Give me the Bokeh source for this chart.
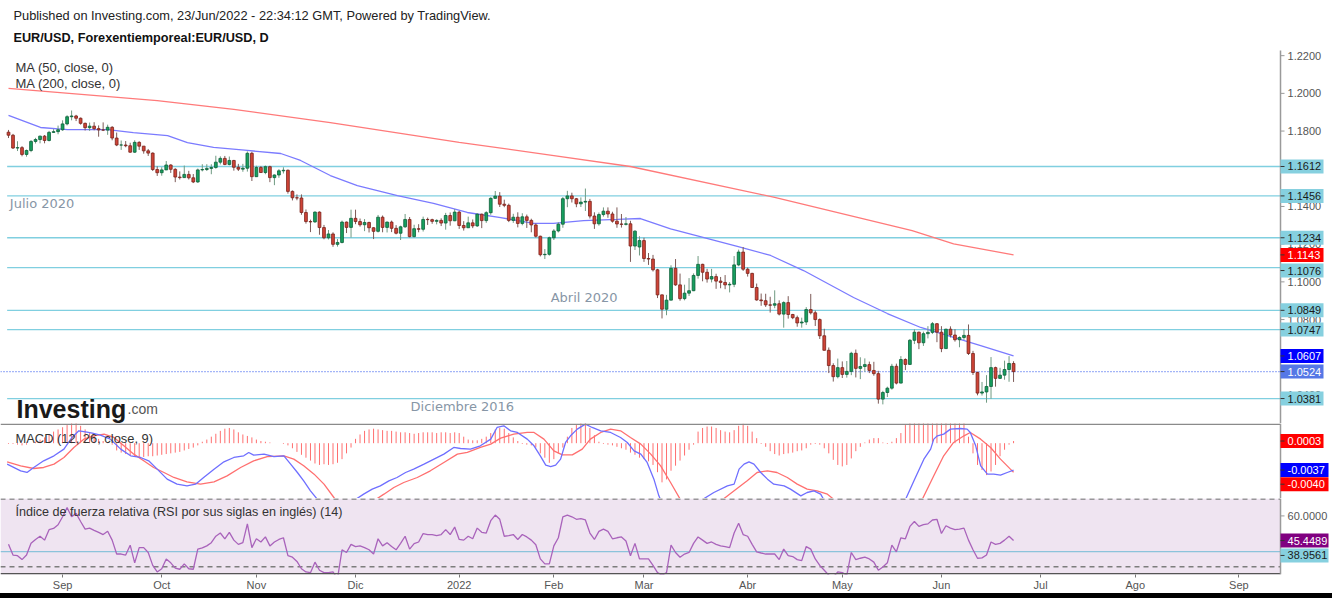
import pandas as pd
from bokeh.plotting import figure
from bokeh.layouts import column
from bokeh.models import Range1d, FixedTicker, Label, ColumnDataSource, Spacer
from bokeh.core.properties import value
from bokeh.embed import file_html
from bokeh.resources import INLINE

FONT = "Liberation Sans"
FONT_V = value(FONT)

# ---------------- data (EUR/USD daily) ----------------
first_date = "2021-08-16"

opens = [1.1794, 1.1778, 1.1710, 1.1712, 1.1676, 1.1697, 1.1745, 1.1755, 1.1773, 1.1750,
         1.1793, 1.1797, 1.1807, 1.1838, 1.1876, 1.1880, 1.1868, 1.1841, 1.1818, 1.1826,
         1.1813, 1.1806, 1.1805, 1.1820, 1.1763, 1.1726, 1.1726, 1.1722, 1.1688, 1.1740,
         1.1720, 1.1695, 1.1683, 1.1596, 1.1579, 1.1594, 1.1620, 1.1597, 1.1556, 1.1553,
         1.1570, 1.1552, 1.1530, 1.1594, 1.1596, 1.1602, 1.1607, 1.1635, 1.1655, 1.1623,
         1.1644, 1.1608, 1.1598, 1.1603, 1.1682, 1.1558, 1.1607, 1.1580, 1.1611, 1.1553,
         1.1567, 1.1589, 1.1592, 1.1480, 1.1446, 1.1445, 1.1368, 1.1320, 1.1318, 1.1370,
         1.1288, 1.1234, 1.1254, 1.1199, 1.1209, 1.1317, 1.1289, 1.1337, 1.1320, 1.1303,
         1.1315, 1.1287, 1.1268, 1.1343, 1.1289, 1.1317, 1.1284, 1.1258, 1.1292, 1.1331,
         1.1240, 1.1282, 1.1279, 1.1331, 1.1330, 1.1321, 1.1326, 1.1312, 1.1352, 1.1324,
         1.1370, 1.1299, 1.1287, 1.1313, 1.1297, 1.1359, 1.1325, 1.1367, 1.1443, 1.1455,
         1.1412, 1.1406, 1.1326, 1.1343, 1.1310, 1.1345, 1.1326, 1.1302, 1.1242, 1.1144,
         1.1146, 1.1234, 1.1270, 1.1306, 1.1441, 1.1456, 1.1441, 1.1414, 1.1423, 1.1427,
         1.1349, 1.1308, 1.1357, 1.1375, 1.1360, 1.1322, 1.1307, 1.1305, 1.1308, 1.1190,
         1.1185, 1.1219, 1.1124, 1.1121, 1.1064, 1.0931, 1.0855, 1.0903, 1.1072, 1.0984,
         1.0911, 1.0940, 1.0953, 1.1034, 1.1093, 1.1051, 1.1015, 1.1028, 1.1004, 1.0997,
         1.0984, 1.0987, 1.1090, 1.1158, 1.1067, 1.1045, 1.0970, 1.0904, 1.0900, 1.0878,
         1.0876, 1.0884, 1.0829, 1.0890, 1.0827, 1.0810, 1.0782, 1.0787, 1.0853, 1.0836,
         1.0800, 1.0714, 1.0637, 1.0556, 1.0497, 1.0545, 1.0509, 1.0525, 1.0621, 1.0541,
         1.0551, 1.0561, 1.0530, 1.0513, 1.0378, 1.0413, 1.0436, 1.0552, 1.0463, 1.0588,
         1.0562, 1.0690, 1.0733, 1.0677, 1.0725, 1.0732, 1.0778, 1.0733, 1.0646, 1.0749,
         1.0718, 1.0693, 1.0705, 1.0716, 1.0620, 1.0519, 1.0410, 1.0416, 1.0445, 1.0545,
         1.0488, 1.0505, 1.0535, 1.0567]

highs = [1.1806, 1.1785, 1.1746, 1.1720, 1.1702, 1.1752, 1.1764, 1.1776, 1.1779, 1.1801,
         1.1810, 1.1829, 1.1857, 1.1884, 1.1909, 1.1886, 1.1872, 1.1845, 1.1845, 1.1847,
         1.1830, 1.1846, 1.1834, 1.1826, 1.1792, 1.1750, 1.1747, 1.1738, 1.1751, 1.1746,
         1.1720, 1.1705, 1.1687, 1.1613, 1.1608, 1.1641, 1.1624, 1.1603, 1.1586, 1.1617,
         1.1589, 1.1572, 1.1601, 1.1624, 1.1624, 1.1624, 1.1669, 1.1666, 1.1668, 1.1665,
         1.1647, 1.1626, 1.1626, 1.1692, 1.1690, 1.1616, 1.1614, 1.1617, 1.1616, 1.1570,
         1.1598, 1.1608, 1.1596, 1.1485, 1.1464, 1.1464, 1.1384, 1.1330, 1.1374, 1.1374,
         1.1302, 1.1275, 1.1263, 1.1227, 1.1325, 1.1320, 1.1383, 1.1383, 1.1336, 1.1333,
         1.1319, 1.1290, 1.1355, 1.1352, 1.1320, 1.1325, 1.1301, 1.1298, 1.1360, 1.1344,
         1.1303, 1.1306, 1.1346, 1.1341, 1.1335, 1.1332, 1.1337, 1.1366, 1.1368, 1.1386,
         1.1376, 1.1322, 1.1346, 1.1331, 1.1364, 1.1362, 1.1375, 1.1449, 1.1482, 1.1476,
         1.1436, 1.1415, 1.1361, 1.1369, 1.1364, 1.1357, 1.1335, 1.1310, 1.1245, 1.1174,
         1.1240, 1.1280, 1.1316, 1.1450, 1.1483, 1.1473, 1.1445, 1.1448, 1.1495, 1.1440,
         1.1369, 1.1368, 1.1395, 1.1395, 1.1372, 1.1395, 1.1360, 1.1344, 1.1324, 1.1274,
         1.1242, 1.1234, 1.1153, 1.1143, 1.1069, 1.0933, 1.0931, 1.1088, 1.1121, 1.1044,
         1.0985, 1.1020, 1.1045, 1.1137, 1.1096, 1.1069, 1.1069, 1.1043, 1.1026, 1.1036,
         1.0999, 1.1137, 1.1171, 1.1185, 1.1076, 1.1048, 1.0991, 1.0938, 1.0937, 1.0921,
         1.0955, 1.0902, 1.0897, 1.0924, 1.0830, 1.0821, 1.0810, 1.0866, 1.0936, 1.0848,
         1.0806, 1.0751, 1.0652, 1.0568, 1.0593, 1.0578, 1.0580, 1.0629, 1.0641, 1.0600,
         1.0594, 1.0577, 1.0576, 1.0528, 1.0422, 1.0444, 1.0565, 1.0566, 1.0606, 1.0594,
         1.0697, 1.0748, 1.0736, 1.0736, 1.0765, 1.0787, 1.0781, 1.0765, 1.0751, 1.0764,
         1.0749, 1.0711, 1.0749, 1.0774, 1.0634, 1.0524, 1.0469, 1.0505, 1.0601, 1.0550,
         1.0544, 1.0582, 1.0606, 1.0579]

lows = [1.1763, 1.1705, 1.1694, 1.1666, 1.1664, 1.1688, 1.1734, 1.1735, 1.1735, 1.1745,
        1.1790, 1.1783, 1.1801, 1.1830, 1.1857, 1.1853, 1.1834, 1.1803, 1.1801, 1.1804,
        1.1770, 1.1800, 1.1780, 1.1751, 1.1720, 1.1700, 1.1714, 1.1685, 1.1684, 1.1700,
        1.1680, 1.1668, 1.1588, 1.1562, 1.1563, 1.1593, 1.1578, 1.1529, 1.1543, 1.1551,
        1.1543, 1.1524, 1.1525, 1.1586, 1.1588, 1.1571, 1.1600, 1.1623, 1.1619, 1.1618,
        1.1590, 1.1588, 1.1584, 1.1585, 1.1535, 1.1557, 1.1578, 1.1571, 1.1529, 1.1513,
        1.1552, 1.1575, 1.1468, 1.1432, 1.1433, 1.1356, 1.1309, 1.1264, 1.1313, 1.1250,
        1.1226, 1.1225, 1.1186, 1.1187, 1.1204, 1.1259, 1.1235, 1.1306, 1.1293, 1.1269,
        1.1262, 1.1227, 1.1262, 1.1263, 1.1262, 1.1264, 1.1252, 1.1222, 1.1286, 1.1236,
        1.1236, 1.1263, 1.1267, 1.1302, 1.1308, 1.1305, 1.1296, 1.1277, 1.1298, 1.1322,
        1.1281, 1.1272, 1.1286, 1.1285, 1.1291, 1.1285, 1.1313, 1.1356, 1.1441, 1.1397,
        1.1396, 1.1317, 1.1313, 1.1289, 1.1300, 1.1286, 1.1263, 1.1235, 1.1135, 1.1121,
        1.1139, 1.1222, 1.1262, 1.1287, 1.1396, 1.1421, 1.1396, 1.1397, 1.1376, 1.1336,
        1.1281, 1.1298, 1.1346, 1.1340, 1.1314, 1.1287, 1.1288, 1.1299, 1.1106, 1.1169,
        1.1140, 1.1106, 1.1090, 1.1055, 1.0914, 1.0806, 1.0823, 1.0902, 1.0979, 1.0900,
        1.0902, 1.0925, 1.0951, 1.1017, 1.1003, 1.0996, 1.0997, 1.0963, 1.0966, 1.0961,
        1.0944, 1.0972, 1.1083, 1.1058, 1.1028, 1.0968, 1.0900, 1.0873, 1.0867, 1.0837,
        1.0860, 1.0822, 1.0757, 1.0805, 1.0802, 1.0762, 1.0757, 1.0771, 1.0827, 1.0766,
        1.0697, 1.0636, 1.0516, 1.0471, 1.0488, 1.0490, 1.0492, 1.0505, 1.0493, 1.0484,
        1.0523, 1.0516, 1.0502, 1.0354, 1.0350, 1.0389, 1.0428, 1.0456, 1.0462, 1.0532,
        1.0560, 1.0670, 1.0643, 1.0660, 1.0700, 1.0723, 1.0680, 1.0627, 1.0646, 1.0705,
        1.0683, 1.0653, 1.0692, 1.0612, 1.0506, 1.0398, 1.0397, 1.0359, 1.0380, 1.0444,
        1.0485, 1.0481, 1.0470, 1.0469]

closes = [1.1778, 1.1710, 1.1712, 1.1676, 1.1697, 1.1745, 1.1755, 1.1773, 1.1750, 1.1793,
          1.1797, 1.1807, 1.1838, 1.1876, 1.1880, 1.1868, 1.1841, 1.1818, 1.1826, 1.1813,
          1.1806, 1.1805, 1.1820, 1.1763, 1.1726, 1.1726, 1.1722, 1.1688, 1.1740, 1.1720,
          1.1695, 1.1683, 1.1596, 1.1579, 1.1594, 1.1620, 1.1597, 1.1556, 1.1553, 1.1570,
          1.1552, 1.1530, 1.1594, 1.1596, 1.1602, 1.1607, 1.1635, 1.1655, 1.1623, 1.1644,
          1.1608, 1.1598, 1.1603, 1.1682, 1.1558, 1.1607, 1.1580, 1.1611, 1.1553, 1.1567,
          1.1589, 1.1592, 1.1480, 1.1446, 1.1445, 1.1368, 1.1320, 1.1318, 1.1370, 1.1288,
          1.1234, 1.1254, 1.1199, 1.1209, 1.1317, 1.1289, 1.1337, 1.1320, 1.1303, 1.1315,
          1.1287, 1.1268, 1.1343, 1.1289, 1.1317, 1.1284, 1.1258, 1.1292, 1.1331, 1.1240,
          1.1282, 1.1279, 1.1331, 1.1330, 1.1321, 1.1326, 1.1312, 1.1352, 1.1324, 1.1370,
          1.1299, 1.1287, 1.1313, 1.1297, 1.1359, 1.1325, 1.1367, 1.1443, 1.1455, 1.1412,
          1.1406, 1.1326, 1.1343, 1.1310, 1.1345, 1.1326, 1.1302, 1.1242, 1.1144, 1.1146,
          1.1234, 1.1270, 1.1306, 1.1441, 1.1456, 1.1441, 1.1414, 1.1423, 1.1427, 1.1349,
          1.1308, 1.1357, 1.1375, 1.1360, 1.1322, 1.1307, 1.1305, 1.1308, 1.1190, 1.1269,
          1.1219, 1.1124, 1.1121, 1.1064, 1.0931, 1.0855, 1.0903, 1.1072, 1.0984, 1.0911,
          1.0940, 1.0953, 1.1034, 1.1093, 1.1051, 1.1015, 1.1028, 1.1004, 1.0997, 1.0984,
          1.0987, 1.1090, 1.1158, 1.1067, 1.1045, 1.0970, 1.0904, 1.0900, 1.0878, 1.0876,
          1.0884, 1.0829, 1.0890, 1.0827, 1.0810, 1.0782, 1.0787, 1.0853, 1.0836, 1.0800,
          1.0714, 1.0637, 1.0556, 1.0497, 1.0545, 1.0509, 1.0525, 1.0621, 1.0541, 1.0551,
          1.0561, 1.0530, 1.0513, 1.0378, 1.0413, 1.0436, 1.0552, 1.0463, 1.0588, 1.0562,
          1.0690, 1.0733, 1.0677, 1.0725, 1.0732, 1.0778, 1.0733, 1.0646, 1.0749, 1.0718,
          1.0693, 1.0705, 1.0716, 1.0620, 1.0519, 1.0410, 1.0416, 1.0445, 1.0545, 1.0488,
          1.0505, 1.0535, 1.0567, 1.0524]

ma50_idx = [0, 7.1, 13.1, 22, 27.7, 35.3, 39.7, 45.5, 53, 60.4, 64.8, 69.2, 71.4, 77.4,
            86.3, 94.3, 101.8, 109.2, 116.5, 120.9, 127.6, 135.1, 140.2, 146.9, 148.4,
            161.7, 169.1, 176.4, 187.5, 195, 202.4, 209.7, 215.7, 223]
ma50_val = [1.1883, 1.1819, 1.1808, 1.1808, 1.1792, 1.1776, 1.1739, 1.1713, 1.1697, 1.1681,
            1.1644, 1.1591, 1.1564, 1.1511, 1.1458, 1.1416, 1.1368, 1.1341, 1.1310, 1.1310,
            1.1325, 1.1331, 1.1336, 1.1281, 1.1272, 1.1188, 1.1140, 1.1060, 1.0917, 1.0832,
            1.0758, 1.0705, 1.0662, 1.0607]
ma200_idx = [0, 33, 50, 71.4, 100, 121, 138, 170, 200.5, 209.7, 223]
ma200_val = [1.2026, 1.1962, 1.1915, 1.1845, 1.1740, 1.1670, 1.1612, 1.1448, 1.1272, 1.1202, 1.1143]

macd_idx = [-0.3, 2.7, 4.1, 5.6, 7.8, 10.1, 12.3, 14.1, 15.6, 17.1, 18.6, 20.4, 22.6, 24.9,
            27.1, 29.3, 31.1, 33.0, 35.2, 37.4, 39.6, 41.5, 43.3, 45.6, 47.8, 50.0, 52.2,
            53.3, 54.4, 56.7, 58.9, 61.1, 62.6, 64.1, 65.5, 67.0, 68.5, 72.5, 77.0, 78.8,
            80.7, 82.5, 84.4, 86.2, 88.1, 89.9, 92.2, 94.4, 96.6, 98.8, 100.3, 102.5, 104.7,
            107.0, 108.4, 109.9, 111.4, 112.9, 115.1, 116.6, 118.0, 119.2, 120.3, 121.4,
            122.5, 123.6, 124.7, 126.2, 128.0, 129.5, 131.4, 133.6, 135.8, 137.3, 138.8,
            140.3, 141.7, 143.2, 144.3, 144.7, 149.0, 153.9, 156.5, 159.5, 161.0, 162.1,
            163.2, 164.3, 165.4, 166.9, 168.4, 169.8, 172.1, 173.5, 175.8, 177.2, 178.7,
            180.2, 180.9, 190.0, 199.0, 200.9, 203.1, 204.6, 205.3, 206.1, 207.5, 209.0,
            211.2, 212.7, 213.4, 214.6, 215.7, 217.2, 218.6, 220.1, 221.6, 223.0]
macd_val = [-0.00289, -0.00381, -0.00404, -0.00335, -0.00243, -0.00174, -0.00082, 0.00079,
            0.00171, 0.00157, 0.00138, 0.00111, 0.00056, -0.00082, -0.00174, -0.00197,
            -0.00243, -0.00358, -0.00496, -0.00565, -0.00588, -0.00565, -0.00473, -0.00358,
            -0.00257, -0.00197, -0.00174, -0.00128, -0.00165, -0.00151, -0.00184, -0.00174,
            -0.00289, -0.00404, -0.00519, -0.00657, -0.00772, -0.0095, -0.00776, -0.00703,
            -0.00634, -0.00588, -0.00519, -0.00473, -0.00404, -0.00358, -0.00289, -0.0022,
            -0.00151, -0.00059, -0.00073, -0.00082, -0.00036, 0.00056, 0.00217, 0.0024,
            0.00171, 0.00148, 0.00056, -0.00036, -0.00174, -0.00303, -0.00322, -0.00303,
            -0.0022, 0.0001, 0.00102, 0.00194, 0.00263, 0.00217, 0.00171, 0.00148, 0.00079,
            0.0001, -0.00105, -0.00151, -0.00266, -0.00496, -0.00726, -0.0078, -0.011,
            -0.0078, -0.0068, -0.00588, -0.00565, -0.00358, -0.00289, -0.00257, -0.00289,
            -0.00404, -0.00496, -0.00565, -0.00588, -0.00634, -0.00726, -0.0068, -0.00657,
            -0.00703, -0.0078, -0.010, -0.0078, -0.00519, -0.0022, -0.00082, 0.00056,
            0.00102, 0.00125, 0.00194, 0.00203, 0.00194, 0.00148, -0.00036, -0.00312,
            -0.00427, -0.00427, -0.00441, -0.00404, -0.0037]
signal_idx = [-0.3, 2.7, 5.6, 7.8, 10.1, 12.3, 14.5, 16.7, 18.9, 21.2, 23.4, 25.6, 27.8,
              30.0, 32.2, 34.5, 36.7, 39.6, 42.6, 45.6, 48.5, 51.5, 54.4, 57.4, 61.1, 63.3,
              65.5, 67.8, 70.0, 72.2, 72.6, 77.0, 81.4, 83.3, 85.5, 87.7, 90.7, 93.6, 96.6,
              99.6, 101.8, 104.7, 107.0, 109.2, 112.1, 115.1, 116.6, 118.8, 121.0, 122.9,
              125.1, 127.3, 129.1, 131.4, 133.6, 135.8, 138.0, 140.3, 142.5, 144.7, 146.9,
              149.1, 153.0, 158.4, 161.0, 163.9, 166.1, 168.4, 170.5, 172.8, 175.0, 177.2,
              179.4, 181.7, 183.2, 193.0, 202.7, 205.3, 207.5, 209.7, 212.0, 213.4, 215.7,
              217.9, 220.1, 222.3, 223.0]
signal_val = [-0.00257, -0.00312, -0.00349, -0.00335, -0.00289, -0.00197, -0.00059, 0.00056,
              0.00102, 0.00125, 0.00079, -0.00036, -0.00151, -0.00243, -0.00335, -0.00404,
              -0.00473, -0.00533, -0.00565, -0.00533, -0.0045, -0.00335, -0.00243, -0.00184,
              -0.00174, -0.0022, -0.00312, -0.00427, -0.00565, -0.00749, -0.0078, -0.0095,
              -0.0078, -0.00703, -0.00611, -0.00542, -0.00473, -0.00381, -0.00266, -0.00151,
              -0.00128, -0.00059, -0.00013, 0.0007, 0.00125, 0.00148, 0.00148, 0.00056,
              -0.00105, -0.00161, -0.00161, -0.00082, 0.00056, 0.00148, 0.00194, 0.00171,
              0.00079, -0.00013, -0.00151, -0.00312, -0.00542, -0.0078, -0.010, -0.0078,
              -0.00657, -0.00519, -0.00404, -0.00381, -0.00404, -0.00473, -0.00565, -0.00634,
              -0.00657, -0.00703, -0.0078, -0.010, -0.0078, -0.0045, -0.00174, 0.0001,
              0.00102, 0.00148, 0.00056, -0.00059, -0.0022, -0.00358, -0.0040]
hist = [-0.0001, -0.0001, -0.0002, -0.0003, -0.0002, 0.0, 0.0002, 0.0005, 0.0008, 0.0012,
        0.0016, 0.0019, 0.0022, 0.0025, 0.0028, 0.0028, 0.0024, 0.0019, 0.0014, 0.0010,
        0.0006, 0.0003, 0.0001, -0.0002, -0.0010, -0.0013, -0.0015, -0.0017, -0.0018, -0.0019,
        -0.0019, -0.0018, -0.0018, -0.0017, -0.0016, -0.0015, -0.0014, -0.0013, -0.0012, -0.0010,
        -0.0008, -0.0006, -0.0003, 0.0002, 0.0005, 0.0009, 0.0013, 0.0017, 0.0020, 0.0021,
        0.0019, 0.0015, 0.0012, 0.0010, 0.0008, 0.0005, 0.0003, 0.0002, 0.0001, 0.0,
        0.0, -0.0001, -0.0003, -0.0007, -0.0012, -0.0016, -0.0020, -0.0024, -0.0028, -0.0030,
        -0.0029, -0.0030, -0.0029, -0.0027, -0.0022, -0.0014, -0.0006, 0.0006, 0.0012, 0.0017,
        0.0019, 0.0020, 0.0019, 0.0018, 0.0017, 0.0017, 0.0016, 0.0015, 0.0015, 0.0014,
        0.0013, 0.0014, 0.0015, 0.0015, 0.0015, 0.0014, 0.0015, 0.0015, 0.0014, 0.0015,
        0.0014, 0.0009, 0.0005, 0.0004, 0.0004, 0.0006, 0.0009, 0.0014, 0.0019, 0.0021,
        0.0020, 0.0014, 0.0008, 0.0003, -0.0001, -0.0002, -0.0003, -0.0006, -0.0014, -0.0020,
        -0.0027, -0.0022, -0.0014, -0.0006, 0.0009, 0.0021, 0.0025, 0.0028, 0.0028, 0.0021,
        0.0011, 0.0002, -0.0001, -0.0002, -0.0003, -0.0005, -0.0007, -0.0009, -0.0013, -0.0016,
        -0.0020, -0.0022, -0.0025, -0.0030, -0.0040, -0.0054, -0.0050, -0.0038, -0.0031, -0.0024,
        -0.0017, -0.0009, -0.0002, 0.0016, 0.0021, 0.0023, 0.0023, 0.0021, 0.0018, 0.0016,
        0.0015, 0.0018, 0.0024, 0.0027, 0.0024, 0.0016, 0.0007, -0.0001, -0.0005, -0.0011,
        -0.0015, -0.0017, -0.0015, -0.0014, -0.0013, -0.0011, -0.0010, -0.0007, -0.0002, -0.0001,
        -0.0002, -0.0007, -0.0014, -0.0023, -0.0030, -0.0032, -0.0030, -0.0021, -0.0011, -0.0005,
        0.0001, 0.0005, 0.0007, 0.0007, 0.0001, -0.0001, 0.0002, 0.0007, 0.0014, 0.0025,
        0.0028, 0.0028, 0.0028, 0.0028, 0.0028, 0.0028, 0.0028, 0.0028, 0.0028, 0.0028,
        0.0028, 0.0028, 0.0028, 0.0009, -0.0014, -0.0030, -0.0037, -0.0044, -0.0039, -0.0030,
        -0.0018, -0.0009, -0.0002, 0.0003]

rsi = [43.2, 36.9, 36.5, 34.2, 36.9, 43.8, 46.1, 48.0, 45.7, 51.9,
       52.6, 54.8, 59.5, 64.9, 59.5, 61.5, 56.7, 52.2, 52.8, 51.5,
       50.3, 49.0, 50.9, 45.7, 37.5, 37.5, 36.9, 42.7, 32.3, 41.3,
       41.3, 38.4, 30.8, 26.9, 28.8, 34.6, 32.3, 29.2, 28.5, 31.7,
       28.8, 28.5, 40.4, 41.1, 42.3, 44.2, 48.0, 49.9, 46.5, 50.3,
       45.7, 43.2, 44.2, 55.3, 41.3, 46.5, 44.6, 47.6, 42.3, 44.6,
       46.1, 47.1, 36.5, 35.6, 33.1, 28.8, 26.9, 26.5, 32.7, 27.9,
       26.5, 26.5, 26.9, 23.0, 40.0, 38.4, 43.2, 41.9, 42.3, 41.3,
       40.0, 37.5, 46.5, 42.3, 44.2, 41.9, 40.0, 43.8, 48.0, 40.4,
       43.6, 44.6, 49.6, 49.0, 49.0, 48.4, 49.0, 51.9, 49.0, 53.4,
       46.1, 45.7, 48.0, 46.5, 52.8, 50.3, 49.9, 57.2, 60.5, 58.0,
       48.0, 48.4, 49.0, 46.1, 49.0, 47.6, 45.7, 43.0, 34.6, 31.7,
       31.7, 42.3, 47.1, 59.5, 60.5, 59.5, 58.0, 58.4, 57.6, 49.9,
       46.1, 50.9, 52.2, 50.9, 46.5, 47.1, 47.6, 45.2, 36.5, 43.8,
       34.6, 34.6, 34.6, 30.8, 26.5, 25.0, 26.5, 42.7, 38.4, 35.6,
       37.5, 38.4, 43.8, 47.6, 45.7, 43.8, 44.6, 43.2, 42.3, 41.9,
       41.3, 49.9, 55.7, 49.0, 48.0, 43.2, 38.8, 38.1, 37.5, 37.5,
       37.5, 34.2, 40.4, 36.5, 36.0, 34.2, 33.6, 41.9, 40.4, 34.6,
       30.8, 27.9, 25.0, 24.0, 26.9, 26.5, 25.0, 38.4, 34.2, 35.0,
       35.6, 34.6, 32.7, 27.9, 29.8, 32.3, 42.7, 38.8, 47.1, 46.5,
       53.8, 56.7, 53.8, 54.8, 55.3, 57.6, 58.0, 49.6, 54.2, 52.8,
       51.9, 52.2, 52.8, 45.7, 40.0, 35.0, 35.2, 36.9, 44.6, 43.2,
       43.8, 45.7, 48.0, 45.4489]

support_levels = [1.1612, 1.1456, 1.1234, 1.1076, 1.0849, 1.0747, 1.0381]
rsi_marker_level = 38.9561
rsi_bands = [70, 30]
price_ticks = [1.04, 1.06, 1.08, 1.10, 1.12, 1.14, 1.16, 1.18, 1.20, 1.22]
rsi_ticks = [60]
month_names = {9: "Sep", 10: "Oct", 11: "Nov", 12: "Dic", 1: "2022", 2: "Feb", 3: "Mar",
               4: "Abr", 5: "May", 6: "Jun", 7: "Jul", 8: "Ago"}

# ---------------- geometry ----------------
n = len(closes)
idx = list(range(n))
calendar = pd.bdate_range(first_date, "2022-09-30")
month_ticks, month_labels = [], {}
for k in range(1, len(calendar)):
    if calendar[k].month != calendar[k - 1].month:
        month_ticks.append(k)
        month_labels[k] = month_names[calendar[k].month]

W = 1332
PX = 4.507                      # pixels per bar
X0 = -1.775                     # bar index at the left edge
AX = 282.23                     # bar index where the price scale sits
xr = Range1d(X0, X0 + W / PX)
def dx(px):
    return px / PX

def pane(height, yr, bottom=0, xaxis=None):
    f = figure(width=W, height=height, x_range=xr, y_range=yr, output_backend="svg",
               toolbar_location=None, x_axis_location=xaxis, y_axis_location=None,
               min_border_left=0, min_border_right=0, min_border_top=0,
               min_border_bottom=bottom)
    f.grid.visible = False
    f.outline_line_color = None
    f.border_fill_color = "white"
    f.background_fill_color = "white"
    return f

def scale_column(f, y_top, y_bottom, ticks):
    f.segment(x0=AX, y0=y_top, x1=AX, y1=y_bottom, line_color="#9a9a9a", line_width=1.5)
    if ticks:
        f.segment(x0=[AX] * len(ticks), y0=ticks, x1=[AX + dx(4)] * len(ticks), y1=ticks,
                  line_color="#9a9a9a", line_width=1)
        f.text(x=[AX + dx(7)] * len(ticks), y=ticks, text=[f"{t:.4f}" for t in ticks],
               text_font=FONT_V, text_font_size="11px", text_color="#555555",
               text_baseline="middle", text_align="left")

def tags(f, ys, texts, bgs, fgs):
    widths = [48 if len(t) > 6 else 43 for t in texts]
    f.rect(x=[AX + dx(w / 2) for w in widths], y=ys, width=widths, height=[14] * len(ys),
           width_units="screen", height_units="screen", fill_color=bgs, line_color=None)
    f.segment(x0=[AX] * len(ys), y0=ys, x1=[AX + dx(4)] * len(ys), y1=ys,
              line_color="#333333", line_width=1)
    f.text(x=[AX + dx(7)] * len(ys), y=ys, text=texts, text_font=FONT_V,
           text_font_size="11px", text_color=fgs, text_baseline="middle", text_align="left")

def screen_text(f, x, y, text, size="12px", color="#222222", style="normal",
                font=FONT, baseline="middle"):
    f.add_layout(Label(x=x, y=y, x_units="screen", y_units="screen", text=text,
                       text_font=font, text_font_size=size, text_color=color,
                       text_font_style=style, text_baseline=baseline))

# ---------------- main price pane ----------------
p_top, p_bot = 1.249263, 1.024859          # canvas rows 0 .. 423
p = pane(423, Range1d(p_bot, p_top))
p_px = 423 / (p_top - p_bot)

for lv in support_levels:
    p.segment(x0=-0.3, y0=lv, x1=AX, y1=lv, line_color="#80cfe0", line_width=1.3)
p.segment(x0=X0, y0=closes[-1], x1=AX, y1=closes[-1], line_color="#4a6cf0",
          line_dash="1 2", line_width=1.2)

p.line(ma200_idx, ma200_val, line_color="#ff7a7a", line_width=1.3)
p.line(ma50_idx, ma50_val, line_color="#7b7bff", line_width=1.3)

def candle_source(ids):
    return ColumnDataSource(dict(
        x=ids, hi=[highs[i] for i in ids], lo=[lows[i] for i in ids],
        top=[max(opens[i], closes[i]) for i in ids],
        bot=[min(opens[i], closes[i]) for i in ids]))
up_src = candle_source([i for i in idx if closes[i] >= opens[i]])
dn_src = candle_source([i for i in idx if closes[i] < opens[i]])
p.segment(x0="x", y0="lo", x1="x", y1="hi", source=up_src, line_color="#6f9a82", line_width=1)
p.segment(x0="x", y0="lo", x1="x", y1="hi", source=dn_src, line_color="#7d5a57", line_width=1)
p.vbar(x="x", width=0.62, top="top", bottom="bot", source=up_src,
       fill_color="#17a05f", line_color="#0d5f38", line_width=0.8)
p.vbar(x="x", width=0.62, top="top", bottom="bot", source=dn_src,
       fill_color="#cf4437", line_color="#7a221b", line_width=0.8)

note_style = dict(text_font="DejaVu Sans", text_font_size="13px", text_color="#8796a6",
                  text_baseline="middle")
p.add_layout(Label(x=0.3, y=1.1416, text="Julio 2020", **note_style))
p.add_layout(Label(x=120.3, y=1.0917, text="Abril 2020", **note_style))
p.add_layout(Label(x=89.2, y=1.0339, text="Diciembre 2016", **note_style))

screen_text(p, 13, 408, "Published on Investing.com, 23/Jun/2022 - 22:34:12 GMT, Powered by TradingView.",
            size="12.8px", color="#222222")
screen_text(p, 13, 386, "EUR/USD, Forexentiemporeal:EUR/USD, D", size="12.7px",
            color="#111111", style="bold")
screen_text(p, 15, 356, "MA (50, close, 0)", size="13px", color="#333333")
screen_text(p, 15, 340, "MA (200, close, 0)", size="13px", color="#333333")
screen_text(p, 16, 15, "Investing", size="25px", color="#1a1a1a", style="bold",
            baseline="alphabetic")
screen_text(p, 127, 15, ".com", size="14px", color="#555555", baseline="alphabetic")

scale_column(p, p_top - 50 / p_px, p_bot, price_ticks)
tag_y = [lv - (3 / p_px if lv == 1.1076 else 0) for lv in support_levels]
tags(p, tag_y + [ma200_val[-1], ma50_val[-1], closes[-1]],
     [f"{v:.4f}" for v in support_levels] + [f"{ma200_val[-1]:.4f}", f"{ma50_val[-1]:.4f}",
                                             f"{closes[-1]:.4f}"],
     ["#86d0df"] * len(support_levels) + ["#ff0000", "#0000ff", "#5577e6"],
     ["#1a1a1a"] * len(support_levels) + ["white", "white", "white"])

# ---------------- MACD pane ----------------
m_top, m_bot = 0.002717, -0.007628          # canvas rows 423 .. 498
pm = pane(75, Range1d(m_bot, m_top))
m_px = 75 / (m_top - m_bot)
pm.segment(x0=idx, y0=[0] * n, x1=idx, y1=hist, line_color="#ff6f6f", line_width=1)
pm.line(signal_idx, signal_val, line_color="#ff7070", line_width=1.3)
pm.line(macd_idx, macd_val, line_color="#6f6fff", line_width=1.3)
pm.segment(x0=X0, y0=m_top - 0.75 / m_px, x1=AX, y1=m_top - 0.75 / m_px,
           line_color="#8a8a8a", line_width=1.5)
screen_text(pm, 15, 60, "MACD (12, 26, close, 9)", size="12.9px", color="#333333")
scale_column(pm, m_top, m_bot, [])
tags(pm, [hist[-1], macd_val[-1], signal_val[-1] - 12 / m_px],
     [f"{hist[-1]:.4f}", f"{macd_val[-1]:.4f}", f"{signal_val[-1]:.4f}"],
     ["#ff0000", "#0000ff", "#ff0000"], ["white", "white", "white"])

# ---------------- RSI pane ----------------
r_top, r_bot = 70.29, 25.40                 # canvas rows 498 .. 576
pr = pane(95, Range1d(r_bot, r_top), bottom=17, xaxis="below")
r_px = 78 / (r_top - r_bot)
pr.quad(left=X0, right=AX, bottom=r_bot, top=r_top, fill_color="#efe4f1", line_color=None)
for b in rsi_bands:
    pr.segment(x0=X0, y0=b, x1=AX, y1=b, line_color="#7d7d7d", line_dash="5 4", line_width=1.5)
pr.segment(x0=X0, y0=rsi_marker_level, x1=AX, y1=rsi_marker_level, line_color="#8cc3db",
           line_width=1.2)
pr.line(idx, rsi, line_color="#a963bb", line_width=1.3)
pr.segment(x0=X0, y0=r_bot + 0.75 / r_px, x1=AX, y1=r_bot + 0.75 / r_px,
           line_color="#555555", line_width=1.5)
screen_text(pr, 15, 63, "Índice de fuerza relativa (RSI por sus siglas en inglés) (14)",
            size="12.6px", color="#333333")
scale_column(pr, r_top, r_bot, rsi_ticks)
tags(pr, [rsi[-1], rsi_marker_level - 4 / r_px],
     [f"{rsi[-1]:.4f}", f"{rsi_marker_level:.4f}"],
     ["#800080", "#86d0df"], ["white", "#1a1a1a"])

xa = pr.xaxis[0]
xa.ticker = FixedTicker(ticks=month_ticks)
xa.major_label_overrides = dict(month_labels)
xa.axis_line_color = None
xa.major_tick_line_color = "#777777"
xa.major_tick_out = 3
xa.major_tick_in = 0
xa.minor_tick_line_color = None
xa.major_label_text_font = FONT
xa.major_label_text_font_size = "11px"
xa.major_label_text_color = "#555555"
xa.major_label_standoff = 1

bottom_bar = Spacer(width=W, height=5, styles={"background-color": "#000000"})

layout = column(p, pm, pr, bottom_bar, spacing=0)
open("out.html", "w").write(file_html(layout, INLINE))
